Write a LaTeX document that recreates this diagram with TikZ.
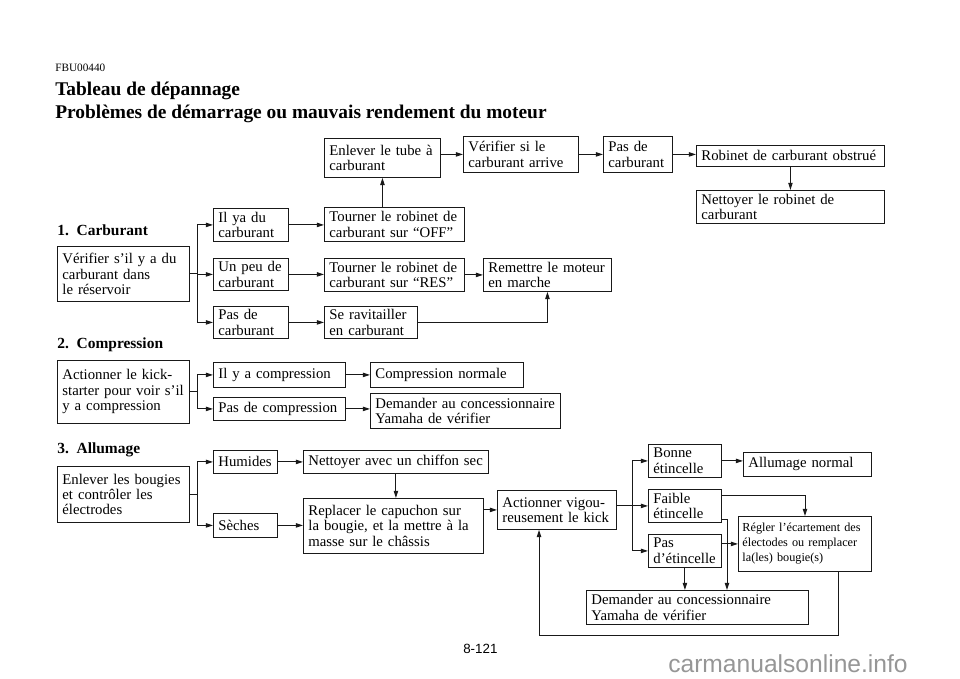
\documentclass[tikz,border=0pt]{standalone}
\usepackage{fontspec}
\setmainfont{Liberation Serif}
\newfontfamily\arialfont{Liberation Sans}
\usetikzlibrary{arrows.meta,calc}
\definecolor{LineClr}{RGB}{25,25,25}
\definecolor{MarkClr}{RGB}{150,150,150}
\tikzset{
  box/.style={draw=LineClr,line width=0.6pt,anchor=north west,align=left,
    inner xsep=0.125cm,inner ysep=0pt,font=\fontsize{10.5}{11}\selectfont},
  ln/.style={draw=LineClr,line width=0.7pt},
  arr/.style={ln,-{Triangle[length=1.8mm,width=1.1mm]}},
  head/.style={anchor=base west,inner sep=0pt,font=\bfseries\fontsize{11}{13}\selectfont}
}

\begin{document}
\begin{tikzpicture}[x=0.025cm,y=-0.025cm]
\useasboundingbox (0,0) rectangle (960,678);

\node[anchor=base west,inner sep=0pt,font=\fontsize{8}{9.6}\selectfont] (code) at (55,71.5) {FBU00440};
\node[anchor=base west,inner sep=0pt,font=\bfseries\fontsize{13.8}{16}\selectfont] (ttl) at (55,95) {Tableau de dépannage};
\node[anchor=base west,inner sep=0pt,font=\bfseries\fontsize{13.8}{16}\selectfont] (sub) at (55,118.5) {Problèmes de démarrage ou mauvais rendement du moteur};

\node[head] (h1) at (57,235) {1.\ \ Carburant};
\node[head] (h2) at (57,348) {2.\ \ Compression};
\node[head] (h3) at (57,453) {3.\ \ Allumage};

\node[box,text width=2.65cm,minimum height=0.975cm] (tube) at (324,138) {Enlever le tube à\\carburant};
\node[box,text width=2.625cm,minimum height=0.9cm] (arrive) at (463,136) {Vérifier si le\\carburant arrive};
\node[box,text width=1.475cm,minimum height=0.9cm] (pasA) at (603,136) {Pas de\\carburant};
\node[box,text width=4.45cm,minimum height=0.525cm] (obst) at (696,145) {Robinet de carburant obstrué};
\node[box,text width=4.45cm,minimum height=0.825cm] (nettR) at (696,190) {Nettoyer le robinet de\\carburant};
\node[box,text width=3.05cm,minimum height=1.375cm] (chkF) at (57,246) {Vérifier s’il y a du\\carburant dans\\le réservoir};
\node[box,text width=1.625cm,minimum height=0.825cm] (ilya) at (213,208) {Il ya du\\carburant};
\node[box,text width=1.625cm,minimum height=0.8cm] (peu) at (213,258) {Un peu de\\carburant};
\node[box,text width=1.625cm,minimum height=0.8cm] (pasF) at (213,306) {Pas de\\carburant};
\node[box,text width=3.25cm,minimum height=0.85cm] (off) at (324,207) {Tourner le robinet de\\carburant sur “OFF”};
\node[box,text width=3.25cm,minimum height=0.825cm] (res) at (324,258) {Tourner le robinet de\\carburant sur “RES”};
\node[box,text width=2.075cm,minimum height=0.8cm] (ravit) at (324,306) {Se ravitailler\\en carburant};
\node[box,text width=2.95cm,minimum height=0.825cm] (remet) at (483,258) {Remettre le moteur\\en marche};

\node[box,text width=3.05cm,minimum height=1.575cm] (kick) at (57,360) {Actionner le kick-\\starter pour voir s’il\\y a compression};
\node[box,text width=3.05cm,minimum height=0.625cm] (comp) at (213,362) {Il y a compression};
\node[box,text width=3.05cm,minimum height=0.575cm] (nocomp) at (213,397) {Pas de compression};
\node[box,text width=3.575cm,minimum height=0.625cm] (normal) at (370,362) {Compression normale};
\node[box,text width=4.5cm,minimum height=0.875cm] (conc) at (370,393) {Demander au concessionnaire\\Yamaha de vérifier};

\node[box,text width=3.05cm,minimum height=1.4cm] (plug) at (57,466) {Enlever les bougies\\et contrôler les\\électrodes};
\node[box,text width=1.35cm,minimum height=0.575cm] (wet) at (213,450) {Humides};
\node[box,text width=1.35cm,minimum height=0.6cm] (dry) at (213,513) {Sèches};
\node[box,text width=4.375cm,minimum height=0.575cm] (clean) at (303,450) {Nettoyer avec un chiffon sec};
\node[box,text width=4.25cm,minimum height=1.375cm] (cap) at (303,498) {Replacer le capuchon sur\\la bougie, et la mettre à la\\masse sur le châssis};
\node[box,text width=2.725cm,minimum height=0.975cm] (kick2) at (497,490) {Actionner vigou-\\reusement le kick};
\node[box,text width=1.575cm,minimum height=0.825cm] (good) at (648,444) {Bonne\\étincelle};
\node[box,text width=2.95cm,minimum height=0.6cm] (allum) at (743,452) {Allumage normal};
\node[box,text width=1.575cm,minimum height=0.825cm] (weak) at (648,489) {Faible\\étincelle};
\node[box,text width=1.575cm,minimum height=0.825cm] (nospark) at (648,534) {Pas\\d’étincelle};
\node[box,text width=3.125cm,minimum height=1.375cm,inner xsep=0.1cm,font=\fontsize{8.7}{10.6}\selectfont] (gap) at (738,516) {Régler l’écartement des\\électodes ou remplacer\\la(les) bougie(s)};
\node[box,text width=5.3cm,minimum height=0.85cm] (concI) at (586,590) {Demander au concessionnaire\\Yamaha de vérifier};

\draw[ln] (chkF.east) -- ++(8,0) coordinate (b1);
\draw[arr] (b1) |- (ilya.west);
\draw[arr] (b1) |- (peu.west);
\draw[arr] (b1) |- (pasF.west);
\draw[arr] (ilya.east) -- (ilya.east -| off.west);
\draw[arr] (peu.east) -- (peu.east -| res.west);
\draw[arr] (pasF.east) -- (pasF.east -| ravit.west);
\draw[arr] (res.east) -- (res.east -| remet.west);
\draw[arr] (ravit.east) -| (remet.south);
\draw[arr] (off.north -| tube.south) -- (tube.south);
\draw[arr] (tube.east |- arrive.west) -- (arrive.west);
\draw[arr] (arrive.east) -- (pasA.west);
\draw[arr] (pasA.east) -- (pasA.east -| obst.west);
\draw[arr] (obst.south) -- (obst.south |- nettR.north);

\draw[ln] (kick.east) -- ++(8,0) coordinate (b2);
\draw[arr] (b2) |- (comp.west);
\draw[arr] (b2) |- (nocomp.west);
\draw[arr] (comp.east) -- (comp.east -| normal.west);
\draw[arr] (nocomp.east) -- (nocomp.east -| conc.west);

\draw[ln] (plug.east) -- ++(8,0) coordinate (b3);
\draw[arr] (b3) |- (wet.west);
\draw[arr] (b3) |- (dry.west);
\draw[arr] (wet.east) -- (wet.east -| clean.west);
\draw[arr] (dry.east) -- (dry.east -| cap.west);
\draw[arr] (clean.south) -- (clean.south |- cap.north);
\draw[arr] (cap.east |- kick2.west) -- (kick2.west);
\draw[ln] (kick2.east |- weak.west) -- ++(16,0) coordinate (b4);
\draw[arr] (b4) |- (good.west);
\draw[arr] (b4) -- (weak.west);
\draw[arr] (b4) |- (nospark.west);
\draw[arr] (good.east) -- (good.east -| allum.west);
\coordinate (w1) at ($(weak.north east)+(0,6)$);
\coordinate (w2) at ($(weak.south east)+(0,-3)$);
\coordinate (p1) at ($(nospark.east)+(0,-7)$);
\draw[arr] (w1) -| ($(gap.north west)+(67,0)$);
\draw[arr] (w2) -| ($(concI.north west)+(141,0)$);
\draw[arr] (p1) -- (p1 -| gap.west);
\draw[arr] (nospark.south) -- (nospark.south |- concI.north);
\draw[arr] ($(gap.south west)+(100,0)$) -- ++(0,64) -| ($(kick2.south west)+(42,0)$);

\node[anchor=base west,inner sep=0pt,font=\arialfont\fontsize{9.5}{11}\selectfont] (page) at (463,653) {8-121};
\node[anchor=base west,inner sep=0pt,text=MarkClr,font=\arialfont\fontsize{17.5}{20}\selectfont] (mark) at (668,672) {carmanualsonline.info};

\end{tikzpicture}
\end{document}
